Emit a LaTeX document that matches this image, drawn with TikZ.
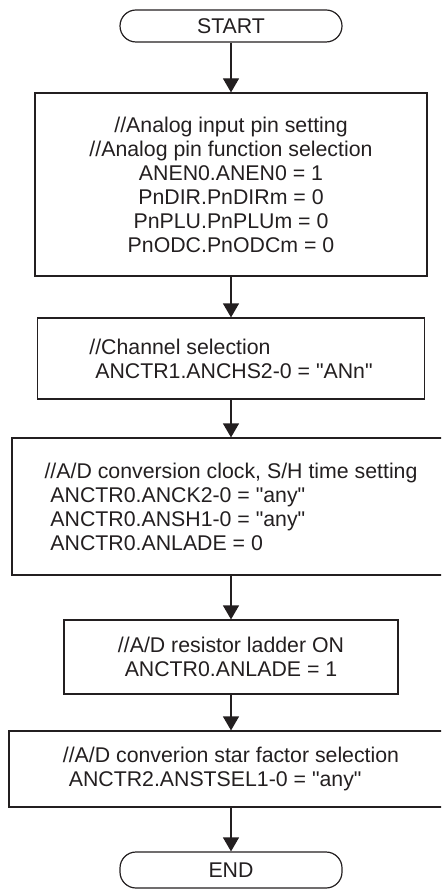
\documentclass[tikz,border=0pt]{standalone}
\usepackage{fontspec}
\setmainfont{Liberation Sans}[Ligatures=TeXOff]
\usetikzlibrary{arrows.meta}
\definecolor{ink}{HTML}{231F20}
\begin{document}
\begin{tikzpicture}[x=1pt,y=-1pt,
  box/.style={draw=ink, line width=1.2pt, rectangle, inner sep=0pt, text=ink,
    font=\fontsize{21.3}{24}\selectfont},
  term/.style={box, rounded corners=16pt},
  flow/.style={draw=ink, line width=1.2pt, -{Triangle[length=14pt,width=16pt]}}]
\clip (0,0) rectangle (441,890);
\node[term, minimum width=222pt, minimum height=32pt] (start) at (231,26) {START};
\node[box, minimum width=392pt, minimum height=183pt, align=center] (b1) at (231,184.5)
  {//Analog input pin setting\\//Analog pin function selection\\ANEN0.ANEN0 = 1\\PnDIR.PnDIRm = 0\\PnPLU.PnPLUm = 0\\PnODC.PnODCm = 0};
\node[box, minimum width=387pt, minimum height=81pt, align=left] (b2) at (231,358.5)
  {//Channel selection\\\ ANCTR1.ANCHS2-0 = "ANn"};
\node[box, minimum width=438pt, minimum height=137pt, align=left] (b3) at (231,506.5)
  {//A/D conversion clock, S/H time setting\\\ ANCTR0.ANCK2-0 = "any"\\\ ANCTR0.ANSH1-0 = "any"\\\ ANCTR0.ANLADE = 0};
\node[box, minimum width=334pt, minimum height=74pt, align=center] (b4) at (231,657)
  {//A/D resistor ladder ON\\ANCTR0.ANLADE = 1};
\node[box, minimum width=444pt, minimum height=76pt, align=left] (b5) at (231,769)
  {//A/D converion star factor selection\\\ ANCTR2.ANSTSEL1-0 = "any"};
\node[term, minimum width=222pt, minimum height=36pt] (end) at (231,870) {END};
\draw[flow] (start) -- (b1);
\draw[flow] (b1) -- (b2);
\draw[flow] (b2) -- (b3);
\draw[flow] (b3) -- (b4);
\draw[flow] (b4) -- (b5);
\draw[flow] (b5) -- (end);
\end{tikzpicture}
\end{document}
